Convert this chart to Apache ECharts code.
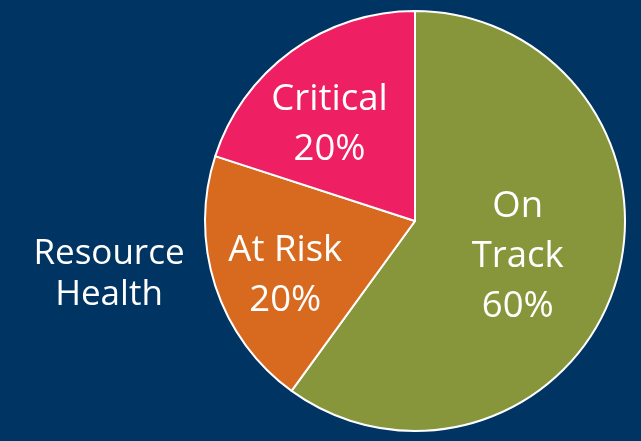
<!DOCTYPE html>
<html>
<head>
<meta charset="utf-8">
<script src="https://cdn.jsdelivr.net/npm/echarts@6/dist/echarts.min.js"></script>
<style>
  html, body { margin: 0; padding: 0; background: #003462; }
  #main { width: 641px; height: 441px; }
</style>
</head>
<body>
<div id="main"></div>
<script>
// resource health split
var names = ["On Track", "At Risk", "Critical"];
var labelLines = ["On\nTrack", "At Risk", "Critical"];
var values = [60, 20, 20];
var colors = ["#87963b", "#d86a20", "#ee1f62"];
// nudge for labels that sit off the default inside point
var labelShift = [[0, 2], [-27, 21], [-22, -9]];

var chart = echarts.init(document.getElementById("main"));

var pieData = [];
for (var i = 0; i < names.length; i++) {
  pieData.push({
    name: names[i],
    value: values[i],
    itemStyle: { color: colors[i] },
    label: { formatter: labelLines[i] + "\n{d}%" }
  });
}

var option = {
  backgroundColor: "#003462",
  animation: false,
  title: {
    text: "Resource\nHealth",
    left: 109,
    top: 234,
    padding: 0,
    textAlign: "center",
    textStyle: {
      color: "#ffffff",
      fontFamily: "Open Sans",
      fontWeight: "normal",
      fontSize: 35,
      lineHeight: 41
    }
  },
  series: [
    {
      type: "pie",
      center: [415, 221],
      radius: [0, 210],
      startAngle: 90,
      clockwise: true,
      itemStyle: { borderColor: "#ffffff", borderWidth: 2 },
      label: {
        show: true,
        position: "inside",
        color: "#ffffff",
        fontFamily: "Open Sans",
        fontSize: 36.5,
        lineHeight: 50,
        align: "center"
      },
      labelLayout: function (params) {
        var s = labelShift[params.dataIndex];
        return { dx: s[0], dy: s[1] };
      },
      labelLine: { show: false },
      emphasis: { disabled: true },
      data: pieData
    }
  ]
};
chart.setOption(option);
</script>
</body>
</html>
